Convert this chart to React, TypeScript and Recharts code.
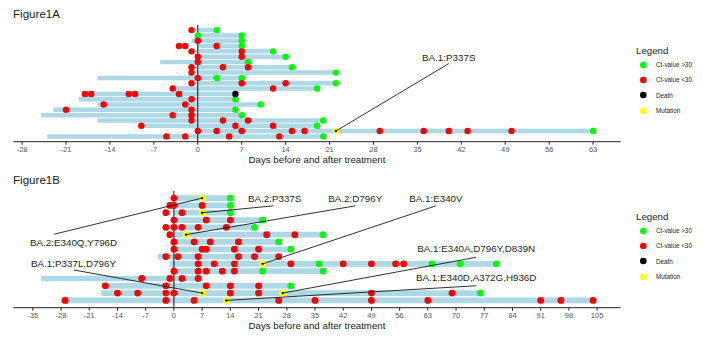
import React from "react";
import { Label, Scatter, ScatterChart, XAxis, YAxis } from "recharts";

const FONT = '"Liberation Sans", Arial, Helvetica, sans-serif';

// ---- Figure 1A ----
const ticksA = [-28, -21, -14, -7, 0, 7, 14, 21, 28, 35, 42, 49, 56, 63];
// [first day, last day] of follow-up for each patient, top to bottom
const barsA: [number, number][] = [
  [0, 3], [0, 7], [-1, 7], [0, 7], [0, 12], [0, 14], [-6, 8], [0, 15],
  [0, 22], [-16, 7], [0, 22], [-4, 19], [-18, 6], [-19, 6], [-16, 10],
  [-23, 6], [-25, 7], [-16, 20], [-9, 19], [0, 63], [-24, 20]
];
const redA: number[][] = [
  [-1], [], [0], [-3, -2, 3], [-1, 7], [0, 7], [0], [-1, 4, 8], [-1], [0],
  [-1, 7, 14], [-4, 12], [-18, -17, -11, -10, -3], [-1], [-15, -2], [-21, -1],
  [-4, -1], [-1, 4, 8], [-9, 6, 12], [0, 3, 7, 15, 17, 29, 36, 40, 43, 50],
  [-5, -2, 5, 13]
];
const greenA: number[][] = [
  [3], [0, 7], [7], [7], [12], [14], [8], [15], [22], [3, 7], [22], [19], [],
  [6], [10], [6], [7], [20], [19], [63], [20]
];
// [row, day]
const blackA: [number, number][] = [[12, 6]];
const yellowA: [number, number][] = [[19, 22]];
const notesA = [
  { text: "BA.1:P337S", label: [40, 5.1], from: [40, 6.3], to: [22, 19] }
];

// ---- Figure 1B ----
const ticksB = [-35, -28, -21, -14, -7, 0, 7, 14, 21, 28, 35, 42, 49, 56, 63, 70, 77, 84, 91, 98, 105];
const barsB: [number, number][] = [
  [0, 14], [0, 14], [0, 14], [0, 22], [0, 20], [-1, 37], [0, 26], [0, 29],
  [-4, 26], [-1, 80], [0, 37], [-33, 7], [-18, 29], [-18, 76], [-28, 104]
];
const redB: number[][] = [
  [0], [-1, 0, 7], [-2, 2], [0, 8, 14], [-2, 0, 2, 6, 13], [-1, 23, 30],
  [0, 5, 9, 16], [0, 7, 8, 15, 21], [-2, 1, 6, 16, 20, 26],
  [6, 10, 15, 29, 42, 49, 55, 57], [0, 6, 8, 12, 15], [-8, -1, 2, 6],
  [-17, -2, 8, 14, 21], [-14, -9, -2, 0, 14, 21, 49, 69],
  [-27, -2, 5, 26, 35, 49, 63, 91, 96, 104]
];
const greenB: number[][] = [
  [14], [14], [14], [22], [20], [37], [26], [29], [], [36, 64, 71, 80],
  [22, 37], [], [29], [76], []
];
const blackB: [number, number][] = [];
const yellowB: [number, number][] = [
  [0, 7], [2, 7], [5, 3], [9, 22], [13, 7], [13, 27], [14, 13]
];
const notesB = [
  { text: "BA.2:E340Q,Y796D", label: [-24.9, 6.13], from: [-29.7, 4.94], to: [7, 0] },
  { text: "BA.1:P337L,D796Y", label: [-24.9, 8.9], from: [-24.8, 9.84], to: [7, 13] },
  { text: "BA.2:P337S", label: [25, 0], from: [24.7, 1.06], to: [7, 2] },
  { text: "BA.2:D796Y", label: [45, 0], from: [45, 1.06], to: [3, 5] },
  { text: "BA.1:E340V", label: [65, 0], from: [65, 1.06], to: [22, 9] },
  { text: "BA.1:E340A,D796Y,D839N", label: [75, 6.95], from: [75, 8.1], to: [27, 13] },
  { text: "BA.1:E340D,A372G,H936D", label: [75, 10.9], from: [75, 12], to: [13, 14] }
];

const legendLabels = ["Ct-value >30", "Ct-value <30", "Death", "Mutation"];
const legendColors = ["#00ff00", "#ff0000", "#000000", "#ffff00"];

type Note = { text: string; label: number[]; from: number[]; to: number[] };

const perRow = (rows: number[][]) =>
  rows.flatMap((days, i) => days.map((d) => ({ x: d, y: i })));
const pairs = (list: [number, number][]) => list.map(([row, d]) => ({ x: d, y: row }));

const blank = () => <g />;
const dot = (fill: string, r: number) => (p: any) =>
  <circle cx={p.cx} cy={p.cy} r={r} fill={fill} />;
const tip = (p: any) =>
  p.payload.tip ? <circle cx={p.cx} cy={p.cy} r={1.2} fill="#111" /> : <g />;
const noteText = (p: any) => (
  <text
    x={p.cx}
    y={p.cy}
    textAnchor="middle"
    dominantBaseline="central"
    fontSize={9.8}
    fontFamily={FONT}
    fill="#1f1f1f"
  >
    {p.payload.text}
  </text>
);

function LegendBox() {
  return (
    <div style={{ position: "absolute", left: 636, top: 44, fontFamily: FONT }}>
      <div style={{ fontSize: 9.7, color: "#1a1a1a", lineHeight: "13px" }}>Legend</div>
      {legendLabels.map((label, i) => (
        <div
          key={label}
          style={{ position: "absolute", left: 0, top: 17 + i * 15.4, height: 7, display: "flex", alignItems: "center" }}
        >
          <svg width={14} height={8} style={{ display: "block" }}>
            <circle cx={7.3} cy={4} r={3.3} fill={legendColors[i]} />
          </svg>
          <span style={{ marginLeft: 6, fontSize: 6.3, color: "#222", whiteSpace: "nowrap" }}>{label}</span>
        </div>
      ))}
    </div>
  );
}

function Panel(props: {
  title: string;
  top: number;
  ticks: number[];
  xDomain: [number, number];
  bars: [number, number][];
  red: number[][];
  green: number[][];
  black: [number, number][];
  yellow: [number, number][];
  notes: Note[];
  r: number;
  barWidth: number;
}) {
  const rows = props.bars.length;
  const noteLines = props.notes.map((n) => [
    { x: n.from[0], y: n.from[1] },
    { x: n.to[0], y: n.to[1], tip: true }
  ]);
  const noteLabels = props.notes.map((n) => ({ x: n.label[0], y: n.label[1], text: n.text }));

  return (
    <div style={{ position: "absolute", left: 0, top: props.top, width: 703, height: 170 }}>
      <div
        style={{ position: "absolute", left: 13, top: 7, fontSize: 11.6, color: "#1a1a1a", fontFamily: FONT, lineHeight: "14px" }}
      >
        {props.title}
      </div>
      <ScatterChart
        width={703}
        height={170}
        margin={{ top: 24.8, right: 82.3, bottom: 3.3, left: 13.3 }}
        style={{ fontFamily: FONT }}
      >
        <XAxis
          type="number"
          dataKey="x"
          domain={props.xDomain}
          ticks={props.ticks}
          allowDataOverflow
          interval={0}
          height={25}
          tickSize={3}
          stroke="#222"
          tick={{ fontSize: 7.5, fill: "#555" }}
        >
          <Label
            value="Days before and after treatment"
            position="insideBottom"
            offset={3.9}
            style={{ fontSize: 9.7, fill: "#1a1a1a" }}
          />
        </XAxis>
        <YAxis type="number" dataKey="y" domain={[-1, rows]} reversed hide allowDataOverflow />

        {props.bars.map(([s, e], i) => (
          <Scatter
            key={`bar-${i}`}
            data={[{ x: s, y: i }, { x: e, y: i }]}
            line={{ stroke: "#add8e6", strokeWidth: props.barWidth }}
            shape={blank}
            isAnimationActive={false}
          />
        ))}
        <Scatter
          data={[{ x: 0, y: -1 }, { x: 0, y: rows }]}
          line={{ stroke: "#111", strokeWidth: 1 }}
          shape={blank}
          isAnimationActive={false}
        />
        <Scatter data={perRow(props.green)} shape={dot("#00ff00", props.r)} isAnimationActive={false} />
        <Scatter data={perRow(props.red)} shape={dot("#ff0000", props.r)} isAnimationActive={false} />
        <Scatter data={pairs(props.black)} shape={dot("#000000", props.r)} isAnimationActive={false} />
        <Scatter data={pairs(props.yellow)} shape={dot("#ffff00", props.r)} isAnimationActive={false} />
        {noteLines.map((d, i) => (
          <Scatter
            key={`note-${i}`}
            data={d}
            line={{ stroke: "#1a1a1a", strokeWidth: 0.9 }}
            shape={tip}
            isAnimationActive={false}
          />
        ))}
        <Scatter data={noteLabels} shape={noteText} isAnimationActive={false} />
      </ScatterChart>
      <LegendBox />
    </div>
  );
}

export default function App() {
  return (
    <div style={{ position: "absolute", left: 0, top: 0, width: 703, height: 339, background: "#fff", overflow: "hidden" }}>
      <Panel
        title="Figure1A"
        top={0}
        ticks={ticksA}
        xDomain={[-29.4, 67.4]}
        bars={barsA}
        red={redA}
        green={greenA}
        black={blackA}
        yellow={yellowA}
        notes={notesA}
        r={3.2}
        barWidth={4.5}
      />
      <Panel
        title="Figure1B"
        top={166}
        ticks={ticksB}
        xDomain={[-39.85, 110.85]}
        bars={barsB}
        red={redB}
        green={greenB}
        black={blackB}
        yellow={yellowB}
        notes={notesB}
        r={3.4}
        barWidth={5.7}
      />
    </div>
  );
}
